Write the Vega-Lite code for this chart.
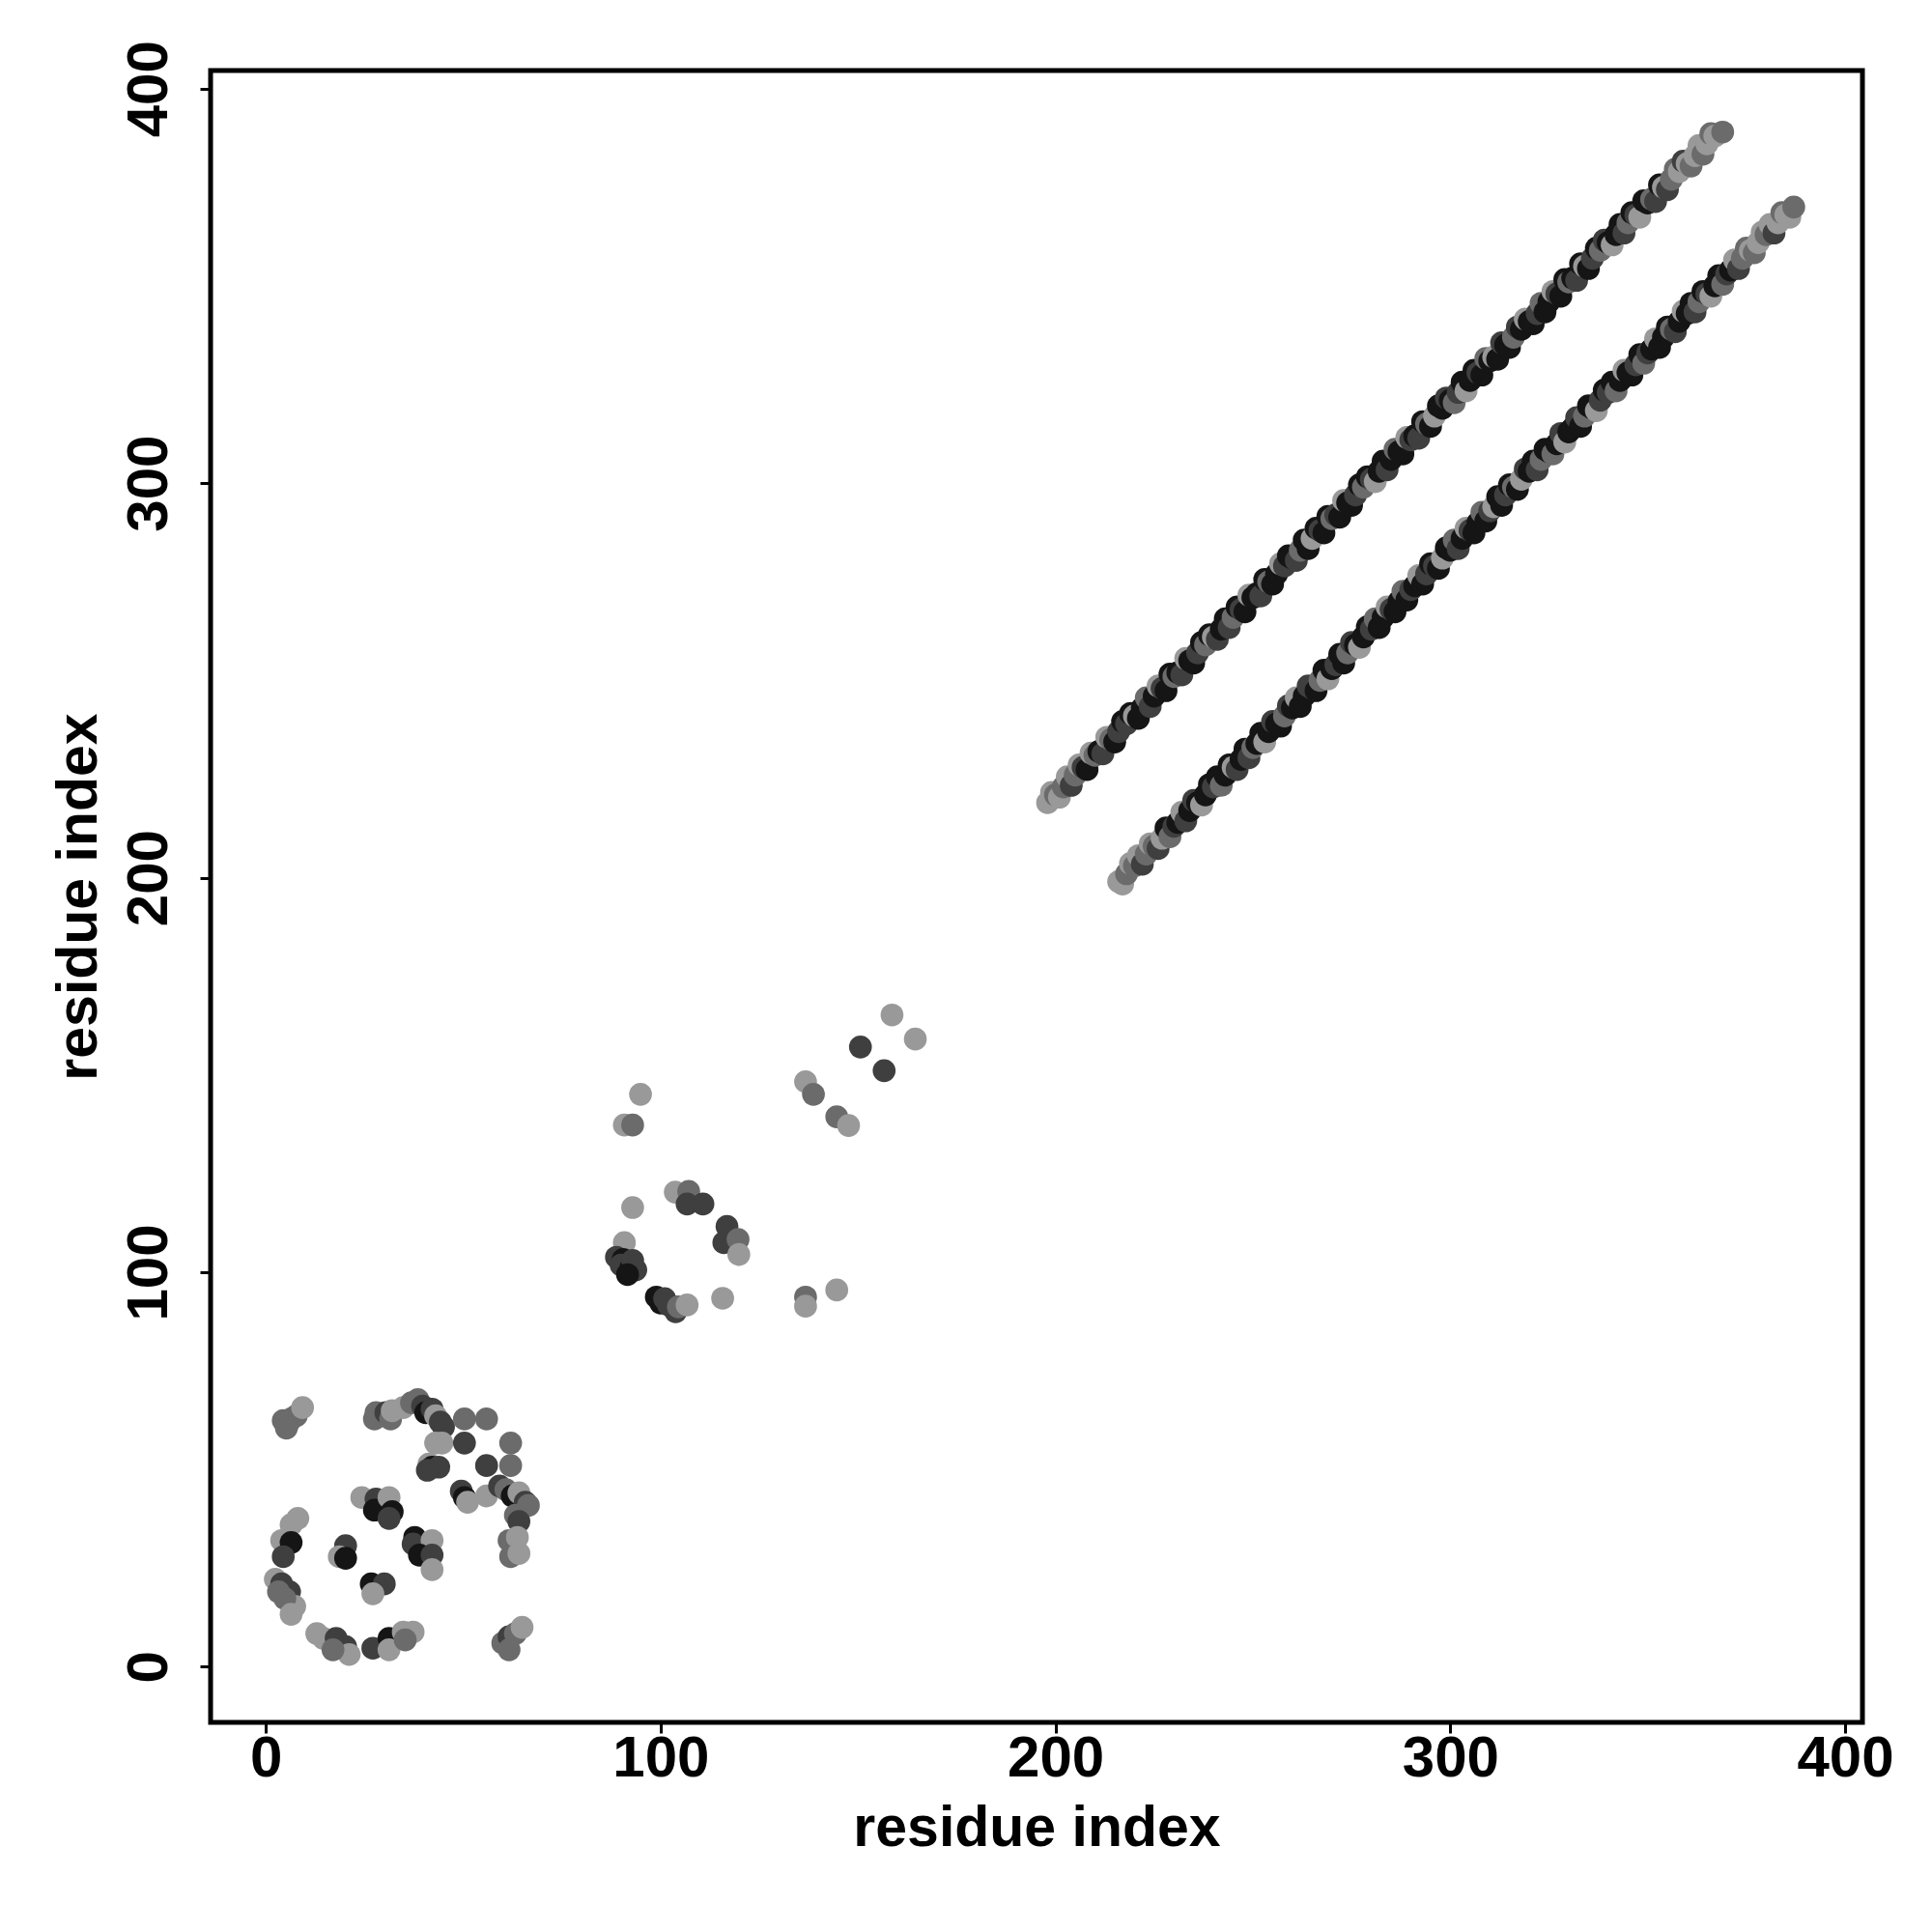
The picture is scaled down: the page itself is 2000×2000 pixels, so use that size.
{
  "$schema": "https://vega.github.io/schema/vega-lite/v6.json",
  "width": 1710,
  "height": 1710,
  "autosize": {"type": "none"},
  "padding": {"left": 218, "top": 73, "right": 72, "bottom": 217},
  "background": "white",
  "config": {
    "view": {"stroke": "black", "strokeWidth": 5},
    "axis": {
      "domain": false,
      "grid": false,
      "ticks": true,
      "tickColor": "black",
      "tickWidth": 3,
      "tickSize": 11,
      "labelFont": "Liberation Sans",
      "labelFontWeight": "bold",
      "labelFontSize": 60,
      "labelColor": "black",
      "titleFont": "Liberation Sans",
      "titleFontWeight": "bold",
      "titleFontSize": 59,
      "titleColor": "black"
    }
  },
  "data": {"values": [
    {"x":198,"y":219,"g":3},{"x":199,"y":221.6,"g":3},{"x":200,"y":221,"g":2},{"x":201,"y":220.4,"g":3},{"x":202,"y":223,"g":2},{"x":203,"y":225.6,"g":3},{"x":204,"y":223.4,"g":1},{"x":205,"y":226,"g":2},{"x":206,"y":228.6,"g":3},
    {"x":207,"y":228,"g":1},{"x":208,"y":227.4,"g":0},{"x":209,"y":231.6,"g":3},{"x":210,"y":231,"g":2},{"x":211,"y":232,"g":0},{"x":212,"y":231.4,"g":1},{"x":213,"y":235.6,"g":3},{"x":214,"y":235,"g":2},{"x":215,"y":234.4,"g":0},{"x":216,"y":237,"g":1},
    {"x":217,"y":239.6,"g":0},{"x":218,"y":239,"g":1},{"x":219,"y":241.6,"g":0},{"x":220,"y":241,"g":3},{"x":221,"y":240.4,"g":0},{"x":222,"y":243,"g":0},{"x":223,"y":245.6,"g":2},{"x":224,"y":243.4,"g":1},{"x":225,"y":246,"g":0},{"x":226,"y":248.6,"g":3},
    {"x":227,"y":248,"g":1},{"x":228,"y":247.4,"g":0},{"x":229,"y":251.6,"g":0},{"x":230,"y":251,"g":2},{"x":231,"y":252,"g":0},{"x":232,"y":251.4,"g":1},{"x":233,"y":255.6,"g":3},{"x":234,"y":255,"g":0},{"x":235,"y":254.4,"g":0},{"x":236,"y":257,"g":1},
    {"x":237,"y":259.6,"g":0},{"x":238,"y":259,"g":2},{"x":239,"y":261.6,"g":0},{"x":240,"y":261,"g":3},{"x":241,"y":260.4,"g":1},{"x":242,"y":263,"g":0},{"x":243,"y":265.6,"g":0},{"x":244,"y":263.4,"g":1},{"x":245,"y":266,"g":2},{"x":246,"y":268.6,"g":0},
    {"x":247,"y":268,"g":1},{"x":248,"y":267.4,"g":0},{"x":249,"y":271.6,"g":3},{"x":250,"y":271,"g":0},{"x":251,"y":272,"g":0},{"x":252,"y":271.4,"g":1},{"x":253,"y":275.6,"g":0},{"x":254,"y":275,"g":2},{"x":255,"y":274.4,"g":0},{"x":256,"y":277,"g":0},
    {"x":257,"y":279.6,"g":3},{"x":258,"y":279,"g":1},{"x":259,"y":281.6,"g":0},{"x":260,"y":281,"g":0},{"x":261,"y":280.4,"g":1},{"x":262,"y":283,"g":2},{"x":263,"y":285.6,"g":0},{"x":264,"y":283.4,"g":0},{"x":265,"y":286,"g":3},{"x":266,"y":288.6,"g":0},
    {"x":267,"y":288,"g":1},{"x":268,"y":287.4,"g":0},{"x":269,"y":291.6,"g":0},{"x":270,"y":291,"g":2},{"x":271,"y":292,"g":1},{"x":272,"y":291.4,"g":0},{"x":273,"y":295.6,"g":3},{"x":274,"y":295,"g":0},{"x":275,"y":294.4,"g":0},{"x":276,"y":297,"g":1},
    {"x":277,"y":299.6,"g":0},{"x":278,"y":299,"g":2},{"x":279,"y":301.6,"g":0},{"x":280,"y":301,"g":1},{"x":281,"y":300.4,"g":3},{"x":282,"y":303,"g":0},{"x":283,"y":305.6,"g":0},{"x":284,"y":303.4,"g":1},{"x":285,"y":306,"g":0},{"x":286,"y":308.6,"g":2},
    {"x":287,"y":308,"g":0},{"x":288,"y":307.4,"g":0},{"x":289,"y":311.6,"g":3},{"x":290,"y":311,"g":1},{"x":291,"y":312,"g":0},{"x":292,"y":311.4,"g":1},{"x":293,"y":315.6,"g":0},{"x":294,"y":315,"g":2},{"x":295,"y":314.4,"g":0},{"x":296,"y":317,"g":3},
    {"x":297,"y":319.6,"g":0},{"x":298,"y":319,"g":0},{"x":299,"y":321.6,"g":1},{"x":300,"y":321,"g":0},{"x":301,"y":320.4,"g":2},{"x":302,"y":323,"g":1},{"x":303,"y":325.6,"g":0},{"x":304,"y":323.4,"g":3},{"x":305,"y":326,"g":0},{"x":306,"y":328.6,"g":0},
    {"x":307,"y":328,"g":1},{"x":308,"y":327.4,"g":0},{"x":309,"y":331.6,"g":2},{"x":310,"y":331,"g":0},{"x":311,"y":332,"g":3},{"x":312,"y":331.4,"g":0},{"x":313,"y":335.6,"g":1},{"x":314,"y":335,"g":0},{"x":315,"y":334.4,"g":0},{"x":316,"y":337,"g":2},
    {"x":317,"y":339.6,"g":1},{"x":318,"y":339,"g":0},{"x":319,"y":341.6,"g":3},{"x":320,"y":341,"g":0},{"x":321,"y":340.4,"g":0},{"x":322,"y":343,"g":1},{"x":323,"y":345.6,"g":2},{"x":324,"y":343.4,"g":0},{"x":325,"y":346,"g":0},{"x":326,"y":348.6,"g":3},
    {"x":327,"y":348,"g":1},{"x":328,"y":347.4,"g":0},{"x":329,"y":351.6,"g":0},{"x":330,"y":351,"g":2},{"x":331,"y":352,"g":0},{"x":332,"y":351.4,"g":1},{"x":333,"y":355.6,"g":0},{"x":334,"y":355,"g":3},{"x":335,"y":354.4,"g":0},{"x":336,"y":357,"g":1},
    {"x":337,"y":359.6,"g":0},{"x":338,"y":359,"g":2},{"x":339,"y":361.6,"g":1},{"x":340,"y":361,"g":0},{"x":341,"y":360.4,"g":3},{"x":342,"y":363,"g":0},{"x":343,"y":365.6,"g":0},{"x":344,"y":363.4,"g":1},{"x":345,"y":366,"g":2},{"x":346,"y":368.6,"g":0},
    {"x":347,"y":368,"g":1},{"x":348,"y":367.4,"g":3},{"x":349,"y":371.6,"g":0},{"x":350,"y":371,"g":0},{"x":351,"y":372,"g":2},{"x":352,"y":371.4,"g":1},{"x":353,"y":375.6,"g":0},{"x":354,"y":375,"g":3},{"x":355,"y":374.4,"g":1},{"x":356,"y":377,"g":2},
    {"x":357,"y":379.6,"g":2},{"x":358,"y":379,"g":3},{"x":359,"y":381.6,"g":1},{"x":360,"y":381,"g":3},{"x":361,"y":380.4,"g":2},{"x":362,"y":383,"g":3},{"x":363,"y":385.6,"g":3},{"x":364,"y":383.4,"g":2},{"x":365,"y":386,"g":3},{"x":366,"y":388.6,"g":2},{"x":367,"y":388,"g":3},{"x":369,"y":389,"g":2},

    {"x":216,"y":199,"g":3},{"x":217,"y":198.4,"g":3},{"x":218,"y":201,"g":2},{"x":219,"y":203.6,"g":3},{"x":220,"y":203,"g":2},{"x":221,"y":205.6,"g":3},{"x":222,"y":203.4,"g":1},{"x":223,"y":206,"g":2},{"x":224,"y":208.6,"g":3},
    {"x":225,"y":208,"g":2},{"x":226,"y":207.4,"g":1},{"x":227,"y":210,"g":3},{"x":228,"y":212.6,"g":0},{"x":229,"y":210.4,"g":2},{"x":230,"y":213,"g":1},{"x":231,"y":214,"g":0},{"x":232,"y":216.6,"g":3},{"x":233,"y":214.4,"g":1},{"x":234,"y":217,"g":0},
    {"x":235,"y":219.6,"g":1},{"x":236,"y":219,"g":0},{"x":237,"y":218.4,"g":3},{"x":238,"y":221,"g":0},{"x":239,"y":223.6,"g":0},{"x":240,"y":223,"g":1},{"x":241,"y":225.6,"g":0},{"x":242,"y":223.4,"g":2},{"x":243,"y":226,"g":0},{"x":244,"y":228.6,"g":0},
    {"x":245,"y":228,"g":3},{"x":246,"y":227.4,"g":1},{"x":247,"y":230,"g":0},{"x":248,"y":232.6,"g":0},{"x":249,"y":230.4,"g":1},{"x":250,"y":233,"g":2},{"x":251,"y":234,"g":0},{"x":252,"y":236.6,"g":0},{"x":253,"y":234.4,"g":3},{"x":254,"y":237,"g":0},
    {"x":255,"y":239.6,"g":1},{"x":256,"y":239,"g":0},{"x":257,"y":238.4,"g":0},{"x":258,"y":241,"g":2},{"x":259,"y":243.6,"g":1},{"x":260,"y":243,"g":0},{"x":261,"y":245.6,"g":3},{"x":262,"y":243.4,"g":0},{"x":263,"y":246,"g":0},{"x":264,"y":248.6,"g":1},
    {"x":265,"y":248,"g":1},{"x":266,"y":247.4,"g":0},{"x":267,"y":250,"g":2},{"x":268,"y":252.6,"g":0},{"x":269,"y":250.4,"g":3},{"x":270,"y":253,"g":0},{"x":271,"y":254,"g":1},{"x":272,"y":256.6,"g":0},{"x":273,"y":254.4,"g":0},{"x":274,"y":257,"g":2},
    {"x":275,"y":259.6,"g":1},{"x":276,"y":259,"g":0},{"x":277,"y":258.4,"g":3},{"x":278,"y":261,"g":0},{"x":279,"y":263.6,"g":0},{"x":280,"y":263,"g":1},{"x":281,"y":265.6,"g":2},{"x":282,"y":263.4,"g":0},{"x":283,"y":266,"g":0},{"x":284,"y":268.6,"g":3},
    {"x":285,"y":268,"g":1},{"x":286,"y":267.4,"g":0},{"x":287,"y":270,"g":0},{"x":288,"y":272.6,"g":2},{"x":289,"y":270.4,"g":0},{"x":290,"y":273,"g":1},{"x":291,"y":274,"g":0},{"x":292,"y":276.6,"g":3},{"x":293,"y":274.4,"g":0},{"x":294,"y":277,"g":1},
    {"x":295,"y":279.6,"g":0},{"x":296,"y":279,"g":1},{"x":297,"y":278.4,"g":0},{"x":298,"y":281,"g":3},{"x":299,"y":283.6,"g":0},{"x":300,"y":283,"g":0},{"x":301,"y":285.6,"g":2},{"x":302,"y":283.4,"g":1},{"x":303,"y":286,"g":0},{"x":304,"y":288.6,"g":3},
    {"x":305,"y":288,"g":1},{"x":306,"y":287.4,"g":0},{"x":307,"y":290,"g":0},{"x":308,"y":292.6,"g":2},{"x":309,"y":290.4,"g":0},{"x":310,"y":293,"g":1},{"x":311,"y":294,"g":3},{"x":312,"y":296.6,"g":0},{"x":313,"y":294.4,"g":0},{"x":314,"y":297,"g":1},
    {"x":315,"y":299.6,"g":0},{"x":316,"y":299,"g":2},{"x":317,"y":298.4,"g":0},{"x":318,"y":301,"g":3},{"x":319,"y":303.6,"g":1},{"x":320,"y":303,"g":0},{"x":321,"y":305.6,"g":0},{"x":322,"y":303.4,"g":1},{"x":323,"y":306,"g":2},{"x":324,"y":308.6,"g":0},
    {"x":325,"y":308,"g":0},{"x":326,"y":307.4,"g":2},{"x":327,"y":310,"g":0},{"x":328,"y":312.6,"g":1},{"x":329,"y":310.4,"g":3},{"x":330,"y":313,"g":0},{"x":331,"y":314,"g":0},{"x":332,"y":316.6,"g":1},{"x":333,"y":314.4,"g":0},{"x":334,"y":317,"g":2},
    {"x":335,"y":319.6,"g":0},{"x":336,"y":319,"g":0},{"x":337,"y":318.4,"g":3},{"x":338,"y":321,"g":1},{"x":339,"y":323.6,"g":0},{"x":340,"y":323,"g":1},{"x":341,"y":325.6,"g":0},{"x":342,"y":323.4,"g":2},{"x":343,"y":326,"g":0},{"x":344,"y":328.6,"g":3},
    {"x":345,"y":328,"g":0},{"x":346,"y":327.4,"g":0},{"x":347,"y":330,"g":1},{"x":348,"y":332.6,"g":0},{"x":349,"y":330.4,"g":2},{"x":350,"y":333,"g":1},{"x":351,"y":334,"g":0},{"x":352,"y":336.6,"g":3},{"x":353,"y":334.4,"g":0},{"x":354,"y":337,"g":0},
    {"x":355,"y":339.6,"g":0},{"x":356,"y":339,"g":2},{"x":357,"y":338.4,"g":1},{"x":358,"y":341,"g":0},{"x":359,"y":343.6,"g":3},{"x":360,"y":343,"g":0},{"x":361,"y":345.6,"g":0},{"x":362,"y":343.4,"g":1},{"x":363,"y":346,"g":2},{"x":364,"y":348.6,"g":0},
    {"x":365,"y":348,"g":1},{"x":366,"y":347.4,"g":3},{"x":367,"y":350,"g":0},{"x":368,"y":352.6,"g":0},{"x":369,"y":350.4,"g":2},{"x":370,"y":353,"g":1},{"x":371,"y":354,"g":0},{"x":372,"y":356.6,"g":3},{"x":373,"y":354.4,"g":1},{"x":374,"y":357,"g":2},
    {"x":375,"y":359.6,"g":2},{"x":376,"y":359,"g":3},{"x":377,"y":358.4,"g":2},{"x":378,"y":361,"g":3},{"x":379,"y":363.6,"g":3},{"x":380,"y":363,"g":2},{"x":381,"y":365.6,"g":3},{"x":382,"y":363.4,"g":1},{"x":383,"y":366,"g":3},{"x":384,"y":368.6,"g":2},{"x":385,"y":368,"g":3},{"x":386,"y":367.4,"g":3},{"x":387,"y":370,"g":2},

    {"x":4.4,"y":62.4,"g":2},{"x":5.6,"y":61.6,"g":2},{"x":6.4,"y":62.8,"g":2},{"x":7.7,"y":63.6,"g":2},{"x":9.3,"y":65.7,"g":3},{"x":5.2,"y":60.5,"g":2},
    {"x":27.5,"y":62.8,"g":2},{"x":27.9,"y":64.4,"g":2},{"x":30.4,"y":64.4,"g":1},{"x":31.6,"y":62.8,"g":2},{"x":32.0,"y":64.9,"g":3},{"x":34.8,"y":65.7,"g":3},{"x":36.9,"y":66.9,"g":2},{"x":38.5,"y":67.7,"g":2},{"x":39.7,"y":66.1,"g":1},{"x":40.5,"y":64.4,"g":0},{"x":42.1,"y":65.3,"g":1},{"x":43.0,"y":63.6,"g":3},{"x":44.2,"y":62.0,"g":1},{"x":45.0,"y":60.8,"g":1},{"x":43.0,"y":56.7,"g":3},{"x":44.6,"y":56.7,"g":3},
    {"x":50.3,"y":62.8,"g":2},{"x":55.9,"y":62.8,"g":2},{"x":50.3,"y":56.7,"g":1},{"x":62.0,"y":56.7,"g":2},{"x":55.9,"y":51.0,"g":1},{"x":62.0,"y":51.0,"g":2},
    {"x":41.3,"y":51.4,"g":3},{"x":42.1,"y":50.6,"g":0},{"x":43.8,"y":50.6,"g":1},{"x":40.9,"y":49.8,"g":1},{"x":49.5,"y":44.5,"g":1},{"x":50.3,"y":42.9,"g":0},{"x":51.1,"y":41.7,"g":3},{"x":55.9,"y":43.3,"g":3},{"x":59.2,"y":45.8,"g":1},{"x":60.8,"y":44.9,"g":2},{"x":62.4,"y":43.3,"g":0},{"x":64.1,"y":44.1,"g":3},{"x":65.7,"y":41.7,"g":1},{"x":66.5,"y":40.9,"g":2},{"x":63.2,"y":38.4,"g":2},{"x":64.1,"y":36.8,"g":1},{"x":61.6,"y":32.0,"g":2},{"x":63.7,"y":32.8,"g":3},{"x":62.0,"y":27.9,"g":2},{"x":64.1,"y":28.7,"g":3},
    {"x":24.3,"y":42.9,"g":3},{"x":27.9,"y":42.5,"g":1},{"x":27.5,"y":39.7,"g":0},{"x":31.2,"y":42.9,"g":3},{"x":32.0,"y":39.3,"g":0},{"x":31.2,"y":37.6,"g":1},{"x":20.2,"y":30.7,"g":1},{"x":18.6,"y":27.9,"g":3},{"x":20.2,"y":27.5,"g":0},{"x":37.7,"y":32.8,"g":0},{"x":37.3,"y":31.1,"g":1},{"x":42.1,"y":32.0,"g":3},{"x":38.9,"y":28.3,"g":0},{"x":42.1,"y":28.3,"g":1},{"x":42.1,"y":24.6,"g":3},{"x":26.7,"y":21.0,"g":0},{"x":30.0,"y":21.0,"g":1},{"x":27.1,"y":18.5,"g":3},
    {"x":8.1,"y":37.6,"g":3},{"x":6.4,"y":36.0,"g":3},{"x":4.0,"y":32.0,"g":3},{"x":6.4,"y":31.5,"g":0},{"x":4.4,"y":27.9,"g":1},
    {"x":2.4,"y":22.2,"g":3},{"x":4.0,"y":21.0,"g":1},{"x":6.0,"y":19.0,"g":1},{"x":7.3,"y":15.3,"g":3},{"x":3.2,"y":19.0,"g":2},{"x":4.8,"y":17.3,"g":2},{"x":6.4,"y":13.3,"g":3},
    {"x":12.9,"y":8.4,"g":3},{"x":14.6,"y":7.2,"g":3},{"x":17.8,"y":7.2,"g":1},{"x":20.2,"y":5.1,"g":1},{"x":21.1,"y":3.1,"g":3},{"x":17.0,"y":4.3,"g":2},{"x":27.1,"y":4.7,"g":1},{"x":31.2,"y":7.2,"g":0},{"x":31.2,"y":4.3,"g":3},{"x":34.8,"y":8.8,"g":3},{"x":37.3,"y":8.8,"g":3},{"x":35.3,"y":6.8,"g":2},
    {"x":60.0,"y":6.0,"g":2},{"x":61.6,"y":7.6,"g":1},{"x":63.2,"y":8.4,"g":2},{"x":64.9,"y":10.0,"g":3},{"x":61.6,"y":4.3,"g":2},

    {"x":158.6,"y":165.2,"g":3},{"x":164.5,"y":159.1,"g":3},{"x":150.6,"y":157.1,"g":1},{"x":156.6,"y":151.1,"g":1},{"x":136.7,"y":148.3,"g":3},{"x":138.7,"y":145.1,"g":2},{"x":144.6,"y":139.4,"g":2},{"x":147.6,"y":137.2,"g":3},
    {"x":94.9,"y":145.1,"g":3},{"x":90.8,"y":137.3,"g":3},{"x":92.9,"y":137.3,"g":2},{"x":92.9,"y":116.4,"g":3},{"x":103.7,"y":120.3,"g":3},{"x":107.1,"y":120.5,"g":2},{"x":106.7,"y":117.3,"g":1},{"x":110.7,"y":117.3,"g":1},{"x":116.8,"y":111.6,"g":1},{"x":116.0,"y":107.5,"g":1},{"x":119.6,"y":108.3,"g":2},{"x":119.8,"y":104.5,"g":3},
    {"x":90.8,"y":107.5,"g":3},{"x":88.8,"y":103.8,"g":1},{"x":90.5,"y":103.2,"g":0},{"x":90.0,"y":101.8,"g":1},{"x":92.5,"y":101.2,"g":0},{"x":92.9,"y":103.0,"g":1},{"x":93.7,"y":100.6,"g":1},{"x":91.6,"y":99.4,"g":0},
    {"x":98.9,"y":93.7,"g":0},{"x":100.0,"y":92.2,"g":0},{"x":101.0,"y":93.3,"g":1},{"x":102.0,"y":91.7,"g":1},{"x":103.0,"y":91.3,"g":1},{"x":103.8,"y":90.0,"g":1},{"x":104.5,"y":91.2,"g":2},{"x":106.7,"y":91.7,"g":3},{"x":115.7,"y":93.4,"g":3},{"x":136.7,"y":93.7,"g":2},{"x":136.7,"y":91.4,"g":3},{"x":144.6,"y":95.5,"g":3}
  ]},
  "mark": {"type": "circle", "size": 560, "opacity": 1, "strokeWidth": 0},
  "encoding": {
    "x": {
      "field": "x", "type": "quantitative",
      "scale": {"domain": [-14.0, 404.4], "nice": false, "zero": false},
      "axis": {
        "values": [0, 100, 200, 300, 400],
        "title": "residue index",
        "labelPadding": 44,
        "labelBaseline": "alphabetic",
        "labelFlush": false,
        "labelOverlap": false,
        "titleX": 855,
        "titleY": 127,
        "titleBaseline": "alphabetic",
        "titleAlign": "center"
      }
    },
    "y": {
      "field": "y", "type": "quantitative",
      "scale": {"domain": [-14.1, 404.6], "nice": false, "zero": false},
      "axis": {
        "values": [0, 100, 200, 300, 400],
        "title": "residue index",
        "labelAngle": -90,
        "labelAlign": "center",
        "labelBaseline": "alphabetic",
        "labelPadding": 35,
        "labelFlush": false,
        "labelOverlap": false,
        "titleAngle": -90,
        "titleX": -119,
        "titleY": 855,
        "titleBaseline": "alphabetic",
        "titleAlign": "center"
      }
    },
    "color": {
      "field": "g", "type": "ordinal",
      "scale": {"domain": [0, 1, 2, 3], "range": ["#151515", "#3f3f3f", "#6b6b6b", "#999999"]},
      "legend": null
    }
  }
}
